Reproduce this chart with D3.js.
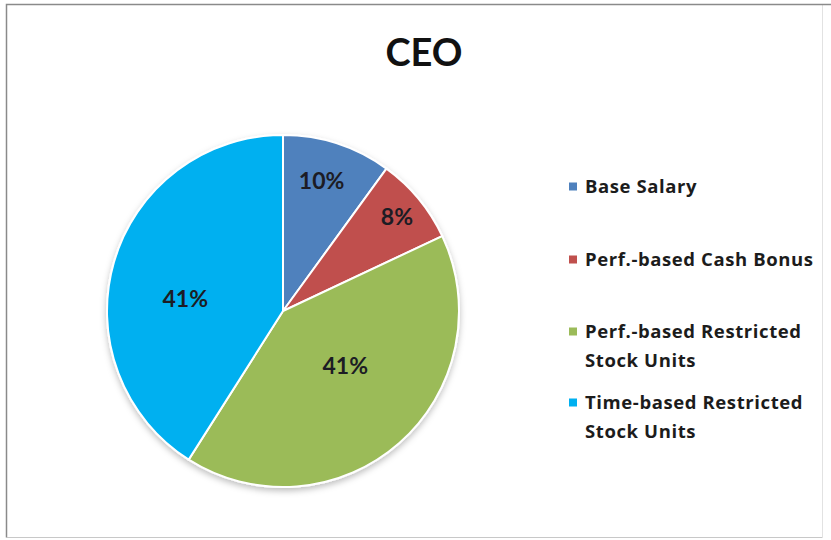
<!DOCTYPE html>
<html>
<head>
<meta charset="utf-8">
<script src="https://cdn.jsdelivr.net/npm/d3@7"></script>
<style>
  body { margin: 0; background: #fff; }
  svg { display: block; }
</style>
</head>
<body>
<div id="pie-chart"></div>
<script>
// Data ---------------------------------------------------------------------->

const chart_title = 'CEO';
const categories = [
  'Base Salary',
  'Perf.-based Cash Bonus',
  'Perf.-based Restricted Stock Units',
  'Time-based Restricted Stock Units'
];
const shares = [10, 8, 41, 41];
const slice_colors = ['#4f81bd', '#c0504d', '#9bbb59', '#00b0f0'];
// legend labels wrap like the original
const legend_lines = [
  ['Base Salary'],
  ['Perf.-based Cash Bonus'],
  ['Perf.-based Restricted', 'Stock Units'],
  ['Time-based Restricted', 'Stock Units']
];

// Setup --------------------------------------------------------------------->

const width = 831, height = 540;
const svg = d3.select('#pie-chart')
  .append('svg')
    .attr('width', width)
    .attr('height', height);

const font = "Lato, 'Open Sans', sans-serif";
const legend_font = "'Open Sans', Lato, sans-serif";

// Outer chart frame
const frame = svg.append('g');
frame.append('rect')
  .attr('x', 6.5).attr('y', 4.5)
  .attr('width', 816).attr('height', 533)
  .attr('fill', '#fff')
  .attr('stroke', '#e2e2e2');
frame.append('path')
  .attr('d', 'M6.5,537.5 V4.5 H831')
  .attr('fill', 'none')
  .attr('stroke', '#8a8a8a')
  .attr('stroke-width', 1.5);
frame.append('path')
  .attr('d', 'M6.5,537.5 H822')
  .attr('fill', 'none')
  .attr('stroke', '#c8c8c8');

// Title
svg.append('text')
  .attr('x', 424).attr('y', 66)
  .attr('text-anchor', 'middle')
  .style('font', `bold 38px ${font}`)
  .style('fill', '#111')
  .text(chart_title);

// Pie ----------------------------------------------------------------------->

const cx = 283, cy = 311, radius = 176;

const color = d3.scaleOrdinal().domain(categories).range(slice_colors);
const pie = d3.pie().sort(null).value(d => d.value);
const arcs = pie(categories.map((c, i) => ({ name: c, value: shares[i] })));
const arc = d3.arc().innerRadius(0).outerRadius(radius);

// soft shadow under the pie
const defs = svg.append('defs');
const shadow = defs.append('filter').attr('id', 'pie-shadow')
  .attr('x', '-10%').attr('y', '-10%').attr('width', '120%').attr('height', '125%');
shadow.append('feDropShadow')
  .attr('dx', 0).attr('dy', 3).attr('stdDeviation', 3)
  .attr('flood-color', '#000').attr('flood-opacity', 0.25);

const pie_g = svg.append('g')
  .attr('transform', `translate(${cx},${cy})`);

pie_g.append('g')
    .attr('filter', 'url(#pie-shadow)')
  .selectAll('path')
  .data(arcs)
  .join('path')
    .attr('d', arc)
    .attr('fill', d => color(d.data.name))
    .attr('stroke', '#fff')
    .attr('stroke-width', 2);

// Label placement (Excel "best fit"): fraction of radius, and where
// within the slice's angle span the label sits
const label_r = [0.77, 0.84, 0.47, 0.56];
const label_t = [0.46, 0.5, 0.45, 0.44];
pie_g.append('g')
  .selectAll('text')
  .data(arcs)
  .join('text')
    .attr('transform', (d, i) => {
      const a = d.startAngle + label_t[i] * (d.endAngle - d.startAngle);
      const r = radius * label_r[i];
      return `translate(${Math.sin(a) * r},${-Math.cos(a) * r})`;
    })
    .attr('text-anchor', 'middle')
    .attr('dy', '0.36em')
    .style('font', `bold 23px ${font}`)
    .style('fill', '#1c1c24')
    .text(d => d.data.value + '%');

// Legend -------------------------------------------------------------------->

const legend_y = [187, 260, 332, 403];
const legend = svg.append('g').attr('transform', 'translate(569,0)');
const item = legend.selectAll('g')
  .data(categories)
  .join('g')
    .attr('transform', (d, i) => `translate(0,${legend_y[i]})`);
item.append('rect')
  .attr('x', 0).attr('y', -4.5)
  .attr('width', 8).attr('height', 8)
  .attr('fill', d => color(d));
item.append('text')
  .attr('x', 16)
  .style('font', `bold 18.5px ${legend_font}`)
  .style('letter-spacing', '0.6px')
  .style('fill', '#1c1c1c')
  .selectAll('tspan')
  .data((d, i) => legend_lines[i])
  .join('tspan')
    .attr('x', 16)
    .attr('y', (d, j) => j * 29)
    .attr('dy', '0.35em')
    .text(d => d);
</script>
</body>
</html>
